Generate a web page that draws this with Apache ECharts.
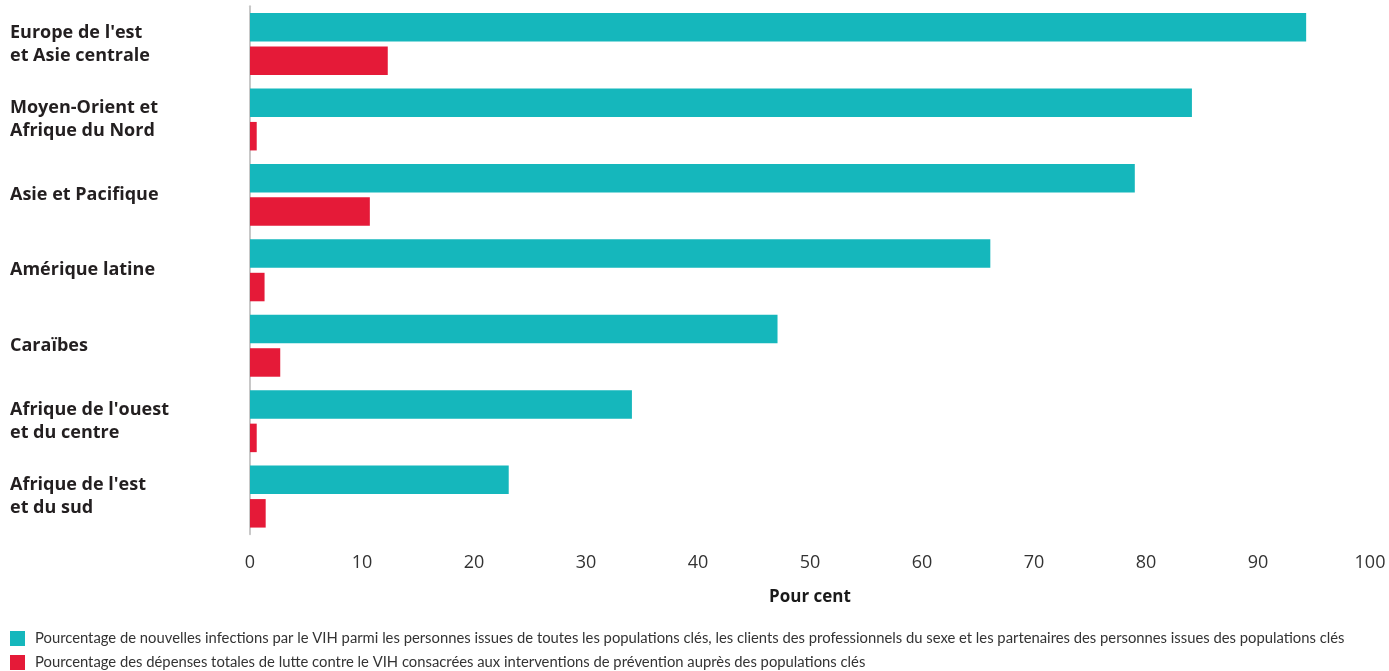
<!DOCTYPE html>
<html><head><meta charset="utf-8">
<script src="https://cdn.jsdelivr.net/npm/echarts@6/dist/echarts.min.js"></script>
<style>html,body{margin:0;padding:0;background:#fff}#c{width:1389px;height:671px}</style>
</head><body><div id="c"></div>
<script>
const categories = ["Europe de l'est\net Asie centrale","Moyen-Orient et\nAfrique du Nord","Asie et Pacifique","Amérique latine","Caraïbes","Afrique de l'ouest\net du centre","Afrique de l'est\net du sud"];
const infectionsShare = [94.3, 84.1, 79.0, 66.1, 47.1, 34.1, 23.1];
const spendingShare = [12.3, 0.6, 10.7, 1.3, 2.7, 0.6, 1.4];
const seriesNames = ["Pourcentage de nouvelles infections par le VIH parmi les personnes issues de toutes les populations clés, les clients des professionnels du sexe et les partenaires des personnes issues des populations clés","Pourcentage des dépenses totales de lutte contre le VIH consacrées aux interventions de prévention auprès des populations clés"];
const xTicks = [0,10,20,30,40,50,60,70,80,90,100];

const legendText = {fontFamily:'Lato',fontSize:14.8,color:'#333',padding:[0,0,0,5]};
const chart = echarts.init(document.getElementById('c'), null, {renderer:'canvas'});
chart.setOption({
  animation:false,
  grid:{left:250,right:19,top:6.3,height:528,containLabel:false},
  xAxis:{type:'value',min:0,max:100,interval:10,
    axisLine:{show:false},axisTick:{show:false},splitLine:{show:false},
    axisLabel:{margin:20,fontFamily:'Open Sans',fontSize:18,color:'#333',
      formatter:v=>xTicks.includes(v)?String(v):''},
    name:'Pour cent',nameLocation:'middle',nameGap:54,
    nameTextStyle:{fontFamily:'Open Sans',fontWeight:'bold',fontSize:17,color:'#1a1a1a'}},
  yAxis:{type:'category',data:categories,inverse:true,
    axisLine:{show:true,lineStyle:{color:'#c8c8c8',width:2}},axisTick:{show:false},
    axisLabel:{align:'left',margin:240,fontFamily:'Open Sans',fontWeight:'bold',fontSize:18,lineHeight:23,color:'#231f20',
      verticalAlign:'middle',padding:[10,0,0,0]}},
  legend:[
    {orient:'vertical',left:10,top:631,padding:0,itemWidth:15,itemHeight:15,icon:'rect',textStyle:legendText,data:[seriesNames[0]]},
    {orient:'vertical',left:10,top:655,padding:0,itemWidth:15,itemHeight:15,icon:'rect',textStyle:legendText,data:[seriesNames[1]]}
  ],
  series:[
    {name:seriesNames[0],type:'bar',data:infectionsShare,barWidth:28.5,barGap:'17.5%',itemStyle:{color:'#15B7BC'}},
    {name:seriesNames[1],type:'bar',data:spendingShare,barWidth:28.5,barGap:'17.5%',itemStyle:{color:'#E51A38'}}
  ]
});
</script></body></html>
